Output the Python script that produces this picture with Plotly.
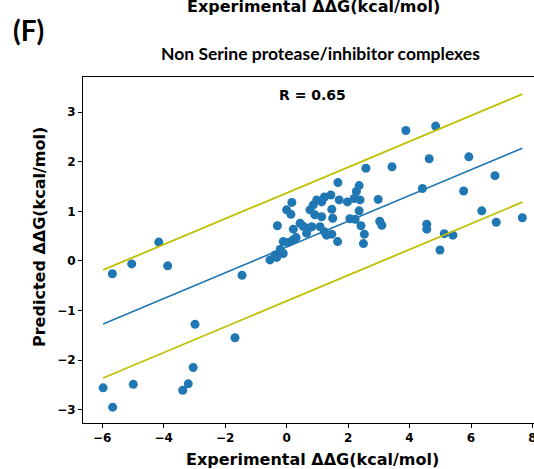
import plotly.graph_objects as go

# Experimental vs predicted ddG (kcal/mol)
exp_ddg = [
    -5.67, -5.04, -4.16, -3.87, -1.45, -2.98, -1.68, -3.04, -5.97, -4.99, -3.38, -3.20, -5.66,
    -0.54, -0.32, -0.38, -0.21, -0.11, -0.11, 0.04, 0.20, 0.31, 0.65, 1.30, 1.47, 1.23, 1.09,
    0.82, 0.71, 0.54, 0.22, 0.44, -0.30, 0.00, 0.14, 0.17, 0.76, 0.87, 0.98, 1.14, 1.23, 1.44,
    0.92, 1.14, 1.47, 1.50, 1.71, 1.98, 2.20, 2.39, 2.36, 2.06, 2.23, 2.42, 2.53, 2.50, 1.66,
    1.67, 2.36, 2.27, 2.58,
    3.03, 3.10, 2.98, 3.43, 3.88, 4.85, 4.64, 4.42, 4.56, 4.56, 5.13, 5.41, 4.99, 5.93, 5.76,
    6.78, 6.35, 6.82, 7.67,
]
pred_ddg = [
    -0.26, -0.06, 0.38, -0.10, -0.29, -1.28, -1.55, -2.15, -2.56, -2.49, -2.61, -2.48, -2.95,
    0.02, 0.07, 0.12, 0.23, 0.15, 0.39, 0.37, 0.42, 0.47, 0.56, 0.52, 0.54, 0.59, 0.69,
    0.69, 0.66, 0.70, 0.64, 0.76, 0.71, 1.03, 0.94, 1.18, 1.03, 1.13, 1.23, 1.19, 1.29, 1.33,
    0.93, 0.89, 1.04, 0.86, 1.23, 1.19, 1.26, 1.23, 1.01, 0.85, 0.84, 0.71, 0.54, 0.35, 0.39,
    1.58, 1.52, 1.40, 1.87,
    0.80, 0.72, 1.24, 1.90, 2.63, 2.72, 2.06, 1.46, 0.74, 0.64, 0.55, 0.52, 0.22, 2.10, 1.41,
    1.72, 1.01, 0.78, 0.87,
]

# Fitted line and +/- band
fit_slope = 0.26
fit_intercept = 0.28
band_offset = 1.09
r_label = "R = 0.65"

x_ticks = [-6, -4, -2, 0, 2, 4, 6, 8]
y_ticks = [-3, -2, -1, 0, 1, 2, 3]

xmin, xmax = min(exp_ddg), max(exp_ddg)
line_x = [xmin, xmax]
fit_y = [fit_slope * v + fit_intercept for v in line_x]
up_y = [v + band_offset for v in fit_y]
lo_y = [v - band_offset for v in fit_y]

BLUE = "#1f77b4"
OLIVE = "#bfbf00"
TICKFONT = dict(family="DejaVu Sans", size=12, color="black", weight="bold")

fig = go.Figure()
fig.add_trace(go.Scatter(x=exp_ddg, y=pred_ddg, mode="markers",
                         marker=dict(color=BLUE, size=9, line=dict(width=0)),
                         showlegend=False))
fig.add_trace(go.Scatter(x=line_x, y=fit_y, mode="lines",
                         line=dict(color=BLUE, width=1.6), showlegend=False))
fig.add_trace(go.Scatter(x=line_x, y=up_y, mode="lines",
                         line=dict(color=OLIVE, width=1.8), showlegend=False))
fig.add_trace(go.Scatter(x=line_x, y=lo_y, mode="lines",
                         line=dict(color=OLIVE, width=1.8), showlegend=False))

W, H = 534, 469
L, T, R, B = 83, 77, 0, 46
pw, ph = W - L - R, H - T - B

def px(x):
    return (x - L) / pw

def py(y):
    return (H - B - y) / ph

fig.update_layout(
    width=W, height=H,
    margin=dict(l=L, r=R, t=T, b=B, pad=0, autoexpand=False),
    plot_bgcolor="white", paper_bgcolor="white",
    xaxis=dict(range=[-6.625, 8.05], tickvals=x_ticks, showgrid=False, zeroline=False,
               showline=True, linecolor="black", linewidth=1, mirror=True,
               ticks="outside", ticklen=4, tickwidth=1, tickcolor="black",
               tickfont=TICKFONT, automargin=False, ticklabeloverflow="allow"),
    yaxis=dict(range=[-3.27, 3.71], tickvals=y_ticks, showgrid=False, zeroline=False,
               showline=True, linecolor="black", linewidth=1,
               ticks="outside", ticklen=4, tickwidth=1, tickcolor="black",
               tickfont=TICKFONT, automargin=False),
    annotations=[
        dict(text="(F)", xref="paper", yref="paper", x=px(28), y=py(30),
             xanchor="center", yanchor="middle", showarrow=False,
             font=dict(family="Lato", size=28, color="black", weight="bold")),
        dict(text="Experimental ΔΔG(kcal/mol)", xref="paper", yref="paper",
             x=px(313.7), y=py(7), xanchor="center", yanchor="middle", showarrow=False,
             font=dict(family="DejaVu Sans", size=16, color="black", weight="bold")),
        dict(text="Non Serine protease/inhibitor complexes", xref="paper", yref="paper",
             x=px(320), y=py(54), xanchor="center", yanchor="middle", showarrow=False,
             font=dict(family="Lato", size=17.5, color="black", weight="bold")),
        dict(text=r_label, xref="x", yref="y", x=0.85, y=3.35,
             xanchor="center", yanchor="middle", showarrow=False,
             font=dict(family="DejaVu Sans", size=14, color="black", weight="bold")),
        dict(text="Experimental ΔΔG(kcal/mol)", xref="paper", yref="paper",
             x=px(312.5), y=py(459), xanchor="center", yanchor="middle", showarrow=False,
             font=dict(family="DejaVu Sans", size=16, color="black", weight="bold")),
        dict(text="Predicted ΔΔG(kcal/mol)", xref="paper", yref="paper",
             x=px(39), y=py(237), xanchor="center", yanchor="middle", showarrow=False,
             textangle=-90,
             font=dict(family="DejaVu Sans", size=16, color="black", weight="bold")),
    ],
)

# remove the default 8px page margin so the figure fills the window exactly
fig.write_html("out.html", config={"displayModeBar": False},
               post_script="document.body.style.margin='0';")
